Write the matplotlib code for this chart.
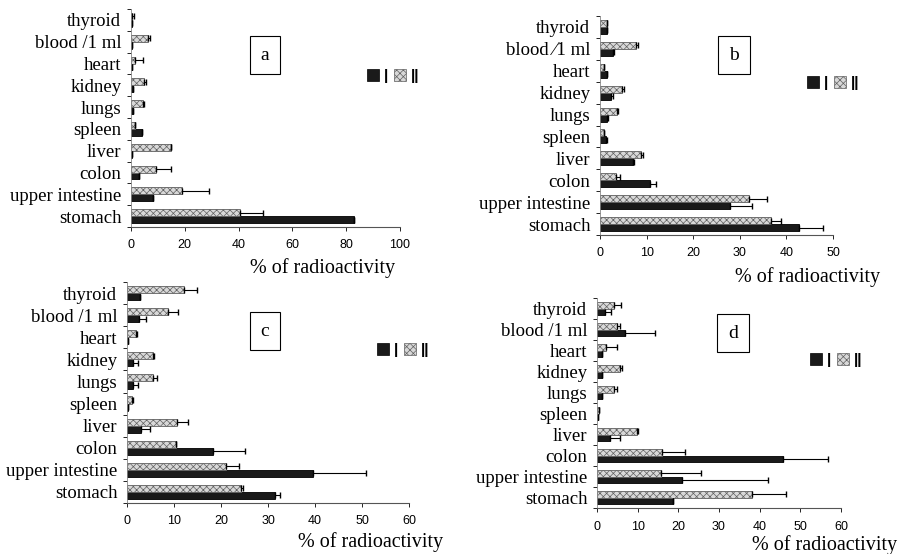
import numpy as np
import matplotlib
matplotlib.use("Agg")
from matplotlib import pyplot as plt
from matplotlib.patches import Patch

organs = ["stomach", "upper intestine", "colon", "liver", "spleen",
          "lungs", "kidney", "heart", "blood /1 ml", "thyroid"]
organs_b = ["stomach", "upper intestine", "colon", "liver", "spleen",
            "lungs", "kidney", "heart", "blood \u20441 ml", "thyroid"]

# panel a
a_I = [83, 8, 3.1, 0.5, 4, 0.8, 0.8, 0.3, 0.3, 0.3]
a_I_err = [0, 0, 0, 0, 0, 0, 0, 0, 0, 0]
a_II = [40.5, 18.8, 9.3, 15, 1.5, 4.5, 5, 1.5, 6.4, 0.5]
a_II_err = [8.5, 10.2, 5.6, 0, 0, 0.3, 0.4, 3.1, 0.6, 0.8]

# panel b
b_I = [42.8, 28, 10.7, 7.0, 1.2, 1.5, 2.4, 1.4, 2.8, 1.5]
b_I_err = [5.0, 4.7, 1.4, 0.3, 0.2, 0.2, 0.3, 0.2, 0.2, 0.1]
b_II = [36.7, 31.9, 3.4, 8.75, 0.8, 3.7, 4.8, 0.8, 7.8, 1.4]
b_II_err = [2.1, 3.9, 0.8, 0.4, 0.1, 0.2, 0.3, 0.1, 0.3, 0.1]

# panel c
c_I = [31.4, 39.6, 18.4, 3.0, 0.2, 1.3, 1.3, 0.3, 2.6, 2.8]
c_I_err = [1.1, 11.3, 6.8, 1.8, 0, 1.0, 1.0, 0, 1.5, 0]
c_II = [24.3, 21, 10.5, 10.6, 1.0, 5.5, 5.5, 2.0, 8.7, 12.1]
c_II_err = [0.4, 2.8, 0, 2.4, 0.2, 0.8, 0.2, 0.2, 2.2, 2.7]

# panel d
d_I = [18.7, 20.9, 45.8, 3.3, 0.3, 1.2, 1.3, 1.2, 6.8, 2.0]
d_I_err = [0, 21.2, 10.9, 2.4, 0, 0, 0, 0, 7.4, 1.5]
d_II = [38, 15.7, 16.1, 9.8, 0.4, 4.1, 5.7, 2.3, 4.9, 4.1]
d_II_err = [8.4, 9.8, 5.6, 0.2, 0, 0.7, 0.5, 2.6, 0.8, 1.8]

panels = [
    ("a", organs, a_I, a_I_err, a_II, a_II_err, 100, 20),
    ("b", organs_b, b_I, b_I_err, b_II, b_II_err, 50, 10),
    ("c", organs, c_I, c_I_err, c_II, c_II_err, 60, 10),
    ("d", organs, d_I, d_I_err, d_II, d_II_err, 60, 10),
]

W, H = 902, 554
# axes boxes in pixels: left, right, top, bottom
boxes = [(131, 400, 9, 227), (600, 833, 16, 235),
         (127, 409, 282, 503), (597, 841, 298, 508)]
letter_pos = [(265, 55), (734, 55), (265, 331), (733, 333)]
legend_pos = [(393, 76), (833, 83), (403, 350), (836, 360)]
xlabel_pos = [(323, 268), (808, 277), (371, 542), (825, 545)]

serif = ["Liberation Serif", "DejaVu Serif"]
sans = ["Liberation Sans", "DejaVu Sans"]

fig = plt.figure(figsize=(W / 100, H / 100), dpi=100)
hatch_kw = dict(color="#d8d8d8", edgecolor="#606060", hatch="xxxxx", linewidth=0.6)
plt.rcParams["hatch.linewidth"] = 0.5

for i, (lab, names, vI, eI, vII, eII, xmax, step) in enumerate(panels):
    l, r, t, b = boxes[i]
    ax = fig.add_axes([l / W, 1 - b / H, (r - l) / W, (b - t) / H])
    y = np.arange(len(names))
    h = 0.32
    ax.barh(y - h / 2, vI, height=h, color="#1a1a1a", edgecolor="black", linewidth=0.6,
            xerr=[np.zeros(len(eI)), eI], error_kw=dict(ecolor="black", elinewidth=0.8, capsize=2))
    ax.barh(y + h / 2, vII, height=h, xerr=[np.zeros(len(eII)), eII],
            error_kw=dict(ecolor="black", elinewidth=0.8, capsize=2), **hatch_kw)
    ax.set_xlim(0, xmax)
    ax.set_ylim(-0.5, len(names) - 0.5)
    ax.set_xticks(np.arange(0, xmax + 1, step))
    ax.set_yticks(y)
    ax.set_yticklabels(names, family=serif, fontsize=13.5)
    ax.set_yticks(np.arange(-0.5, len(names), 1), minor=True)
    ax.tick_params(axis="y", which="major", length=0, pad=7)
    ax.tick_params(axis="y", which="minor", length=3, width=0.6, direction="out")
    ax.tick_params(axis="x", length=3, width=0.6, labelsize=9, pad=6)
    for tl in ax.get_xticklabels():
        tl.set_family(sans)
    for s in ["top", "right"]:
        ax.spines[s].set_visible(False)
    ax.spines["left"].set_linewidth(0.6)
    ax.spines["left"].set_color("#888888")
    ax.spines["bottom"].set_linewidth(0.8)
    ax.spines["bottom"].set_color("#555555")

    lx, ly = letter_pos[i]
    fig.text(lx / W, 1 - ly / H, lab, family=serif, fontsize=14, ha="center", va="center",
             bbox=dict(boxstyle="square,pad=0.55", facecolor="white", edgecolor="black", linewidth=0.8))
    gx, gy = legend_pos[i]
    handles = [Patch(facecolor="#1a1a1a", edgecolor="black", linewidth=0.5),
               Patch(facecolor="#d8d8d8", edgecolor="#606060", hatch="xxxxx", linewidth=0.5)]
    fig.legend(handles, ["|", "||"], loc="center", bbox_to_anchor=(gx / W, 1 - gy / H),
               ncol=2, frameon=False, handlelength=0.8, handleheight=0.8, handletextpad=0.3,
               columnspacing=0.4, prop=dict(family=sans, size=11, weight="bold"))
    xx, xy = xlabel_pos[i]
    fig.text(xx / W, 1 - xy / H, "% of radioactivity", family=serif, fontsize=14.5,
             ha="center", va="center")

fig.savefig("out.png", dpi=100)
